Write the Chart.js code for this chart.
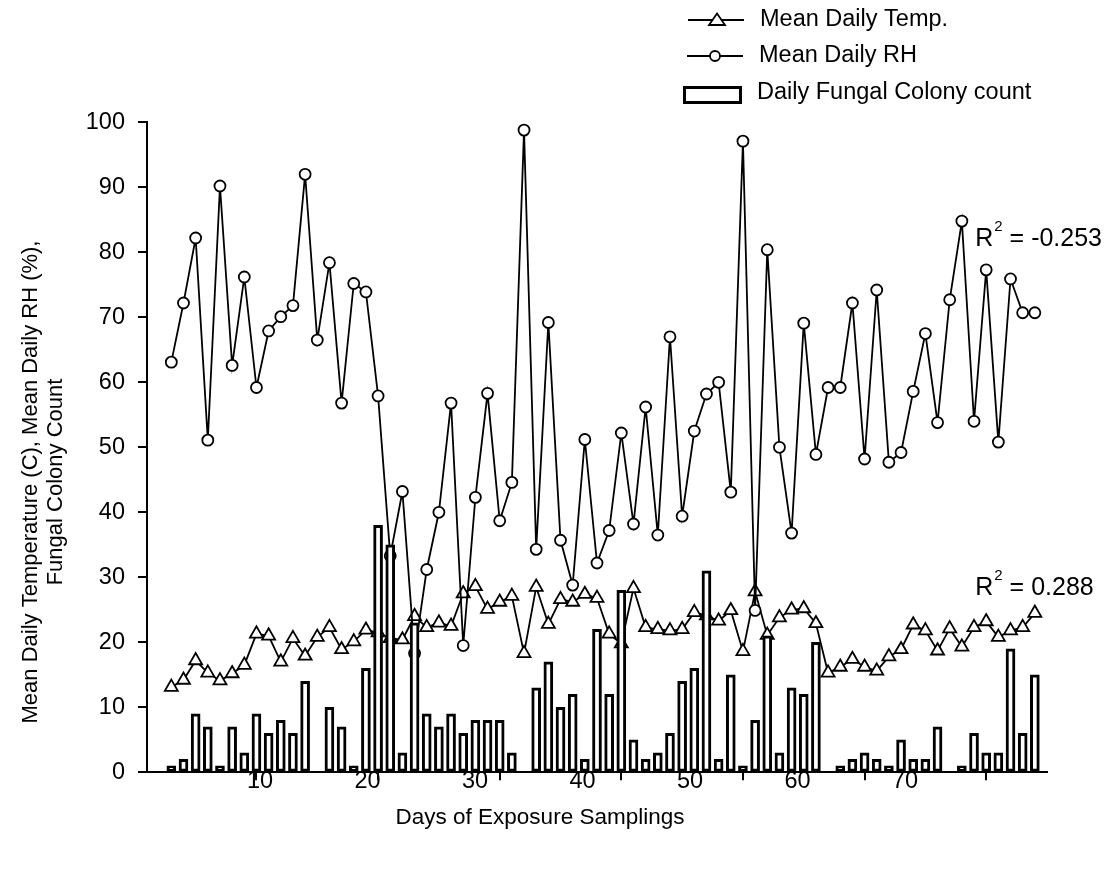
<!DOCTYPE html>
<html>
<head>
<meta charset="utf-8">
<title>Fungal colony count vs temperature and RH</title>
<script src="https://cdn.jsdelivr.net/npm/chart.js@4.4.0/dist/chart.umd.min.js"></script>
<style>
  html, body { margin: 0; padding: 0; background: #fff; }
</style>
</head>
<body>
<canvas id="fungalChart" width="1118" height="886"></canvas>
<script>
// sampling days (x values)
const days = [
  3, 4, 5, 6, 7, 8, 9, 10, 11, 12,
  13, 14, 15, 16, 17, 18, 19, 20, 21, 22,
  23, 24, 25, 26, 27, 28, 29, 30, 31, 32,
  33, 34, 35, 36, 37, 38, 39, 40, 41, 42,
  43, 44, 45, 46, 47, 48, 49, 50, 51, 52,
  53, 54, 55, 56, 57, 58, 59, 60, 61, 62,
  63, 64, 65, 66, 67, 68, 69, 70, 71, 72,
  73, 74
];

const meanTemp = [
  13.1, 14.2, 17.2, 15.3, 14.1, 15.2, 16.5, 21.3, 21.0, 17.0,
  20.6, 17.9, 20.8, 22.3, 18.9, 20.1, 21.9, 21.5, 20.6, 20.4,
  24.0, 22.3, 23.0, 22.5, 27.5, 28.6, 25.1, 26.2, 27.1, 18.3,
  28.5, 22.8, 26.6, 26.2, 27.4, 26.8, 21.3, 19.8, 28.3, 22.3,
  22.0, 21.8, 22.0, 24.6, 24.1, 23.3, 24.9, 18.6, 27.8, 21.1,
  23.8, 25.0, 25.2, 22.9, 15.3, 16.2, 17.4, 16.2, 15.6, 17.8,
  18.9, 22.7, 21.8, 18.7, 22.1, 19.3, 22.3, 23.2, 20.8, 21.8,
  22.3, 24.5
];

const meanRH = [
  63.1, 72.2, 82.2, 51.1, 90.2, 62.6, 76.2, 59.2, 67.9, 70.1,
  71.8, 92.0, 66.5, 78.4, 56.8, 75.2, 73.9, 57.9, 33.3, 43.2,
  18.3, 31.2, 40.0, 56.8, 19.5, 42.3, 58.3, 38.7, 44.6, 98.8,
  34.3, 69.2, 35.7, 28.8, 51.2, 32.2, 37.2, 52.2, 38.2, 56.2,
  36.5, 67.0, 39.4, 52.5, 58.2, 60.0, 43.1, 97.1, 24.9, 80.4,
  50.0, 36.8, 69.1, 48.9, 59.2, 59.2, 72.2, 48.2, 74.2, 47.7,
  49.2, 58.6, 67.5, 53.8, 72.7, 84.8, 54.0, 77.3, 50.8, 75.9,
  70.7, 70.7
];

const colonyCount = [
  1, 2, 9, 7, 1, 7, 3, 9, 6, 8,
  6, 14, 0, 10, 7, 1, 16, 38, 35, 3,
  23, 9, 7, 9, 6, 8, 8, 8, 3, 0,
  13, 17, 10, 12, 2, 22, 12, 28, 5, 2,
  3, 6, 14, 16, 31, 2, 15, 1, 8, 21,
  3, 13, 12, 20, 0, 1, 2, 3, 2, 1,
  5, 2, 2, 7, 0, 1, 6, 3, 3, 19,
  6, 15
];

const xTicks = [10, 20, 30, 40, 50, 60, 70];
const yTicks = [0, 10, 20, 30, 40, 50, 60, 70, 80, 90, 100];
const seriesNames = ['Mean Daily Temp.', 'Mean Daily RH', 'Daily Fungal Colony count'];
const rSquared = ['-0.253', '0.288'];
const xTitle = 'Days of Exposure Samplings';
const yTitle = ['Mean Daily Temperature (C), Mean Daily RH (%),', 'Fungal Colony Count'];

const FONT = '"Liberation Sans", Arial, sans-serif';
Chart.defaults.font.family = FONT;
Chart.defaults.color = '#000';

function pts(values) {
  return days.map((d, i) => ({ x: d, y: values[i] }));
}

// legend, axis titles and R² notes
const extraText = {
  id: 'extraText',
  afterDraw(chart) {
    const ctx = chart.ctx;
    const xs = chart.scales.x, ys = chart.scales.y;
    const ds = chart.data.datasets;

    // y axis title (two rotated lines)
    ctx.save();
    ctx.fillStyle = '#000';
    ctx.font = '22px ' + FONT;
    ctx.textAlign = 'center';
    ctx.textBaseline = 'middle';
    ctx.translate(31, 482);
    ctx.rotate(-Math.PI / 2);
    ctx.fillText(yTitle[0], 0, 0);
    ctx.fillText(yTitle[1], 0, 25);
    ctx.restore();

    // x axis title, off-centre like the original
    ctx.save();
    ctx.fillStyle = '#000';
    ctx.font = '22.5px ' + FONT;
    ctx.textAlign = 'center';
    ctx.textBaseline = 'middle';
    ctx.fillText(xTitle, 540, 818);
    ctx.restore();

    // legend
    ctx.save();
    ctx.strokeStyle = '#000';
    ctx.lineWidth = 1.8;
    ctx.beginPath(); ctx.moveTo(688, 20); ctx.lineTo(744, 20); ctx.stroke();
    ctx.beginPath();
    ctx.moveTo(717, 13.5); ctx.lineTo(725, 25); ctx.lineTo(709, 25); ctx.closePath();
    ctx.fillStyle = '#fff'; ctx.fill(); ctx.stroke();

    ctx.beginPath(); ctx.moveTo(687, 56); ctx.lineTo(743, 56); ctx.stroke();
    ctx.beginPath(); ctx.arc(715, 56, 5, 0, Math.PI * 2);
    ctx.fill(); ctx.stroke();

    ctx.lineWidth = 3;
    ctx.strokeRect(684.5, 87.5, 56, 15);

    ctx.fillStyle = '#000';
    ctx.font = '23.5px ' + FONT;
    ctx.textAlign = 'left';
    ctx.textBaseline = 'middle';
    ctx.fillText(ds[0].label, 760, 20);
    ctx.fillText(ds[1].label, 759, 56);
    ctx.fillText(ds[2].label, 757, 93);
    ctx.restore();

    // R² annotations, anchored in data coordinates
    function drawR2(px, py, val) {
      ctx.font = '25px ' + FONT;
      ctx.fillText('R', px, py);
      const wR = ctx.measureText('R').width;
      ctx.font = '15px ' + FONT;
      ctx.fillText('2', px + wR + 1, py - 15);
      const w2 = ctx.measureText('2').width;
      ctx.font = '25px ' + FONT;
      ctx.fillText(' = ' + val, px + wR + 1 + w2, py);
    }
    ctx.save();
    ctx.fillStyle = '#000';
    ctx.textAlign = 'left';
    ctx.textBaseline = 'alphabetic';
    drawR2(xs.getPixelForValue(69.1), ys.getPixelForValue(80.9), rSquared[0]);
    drawR2(xs.getPixelForValue(69.1), ys.getPixelForValue(27.3), rSquared[1]);
    ctx.restore();
  }
};

new Chart(document.getElementById('fungalChart'), {
  type: 'bar',
  data: {
    datasets: [
      {
        type: 'line',
        label: seriesNames[0],
        data: pts(meanTemp),
        borderColor: '#000',
        borderWidth: 1.8,
        tension: 0,
        pointStyle: 'triangle',
        pointRadius: 7.5,
        pointBackgroundColor: '#fff',
        pointBorderColor: '#000',
        pointBorderWidth: 1.8,
        order: 2
      },
      {
        type: 'line',
        label: seriesNames[1],
        data: pts(meanRH),
        borderColor: '#000',
        borderWidth: 1.8,
        tension: 0,
        pointStyle: 'circle',
        pointRadius: 5.5,
        pointBackgroundColor: '#fff',
        pointBorderColor: '#000',
        pointBorderWidth: 1.8,
        order: 1
      },
      {
        type: 'bar',
        label: seriesNames[2],
        data: pts(colonyCount),
        backgroundColor: '#fff',
        borderColor: '#000',
        borderWidth: 3,
        borderSkipped: false,
        barThickness: 9,
        order: 0
      }
    ]
  },
  options: {
    responsive: false,
    animation: false,
    layout: { padding: { top: 122.3, right: 71, bottom: 0, left: 0 } },
    plugins: { legend: { display: false }, tooltip: { enabled: false } },
    scales: {
      x: {
        type: 'linear',
        position: 'bottom',
        min: 1,
        max: 75,
        offset: false,
        weight: 0,
        afterBuildTicks: s => { s.ticks = xTicks.map(v => ({ value: v })); },
        afterFit: s => { s.height = 0; },
        ticks: { display: false },
        grid: { display: true, offset: false, drawOnChartArea: false, drawTicks: true, tickLength: 8, color: '#000', lineWidth: 2 },
        border: { display: true, color: '#000', width: 2 }
      },
      // tick labels sit on their own scale, as in the original figure
      xl: {
        type: 'linear',
        position: 'bottom',
        min: -0.512,
        max: 83.21,
        offset: false,
        weight: 1,
        afterBuildTicks: s => { s.ticks = xTicks.map(v => ({ value: v })); },
        afterFit: s => { s.height = 113.7; },
        ticks: { color: '#000', font: { size: 23.5 }, padding: -5, maxRotation: 0, autoSkip: false },
        grid: { display: false, drawTicks: false },
        border: { display: false }
      },
      y: {
        type: 'linear',
        min: 0,
        max: 100,
        afterBuildTicks: s => { s.ticks = yTicks.map(v => ({ value: v })); },
        afterFit: s => { s.width = 147; },
        ticks: { color: '#000', font: { size: 23.5 }, padding: 13 },
        grid: { display: true, drawOnChartArea: false, drawTicks: true, tickLength: 9, color: '#000', lineWidth: 2 },
        border: { display: true, color: '#000', width: 2 }
      }
    }
  },
  plugins: [extraText]
});
</script>
</body>
</html>
